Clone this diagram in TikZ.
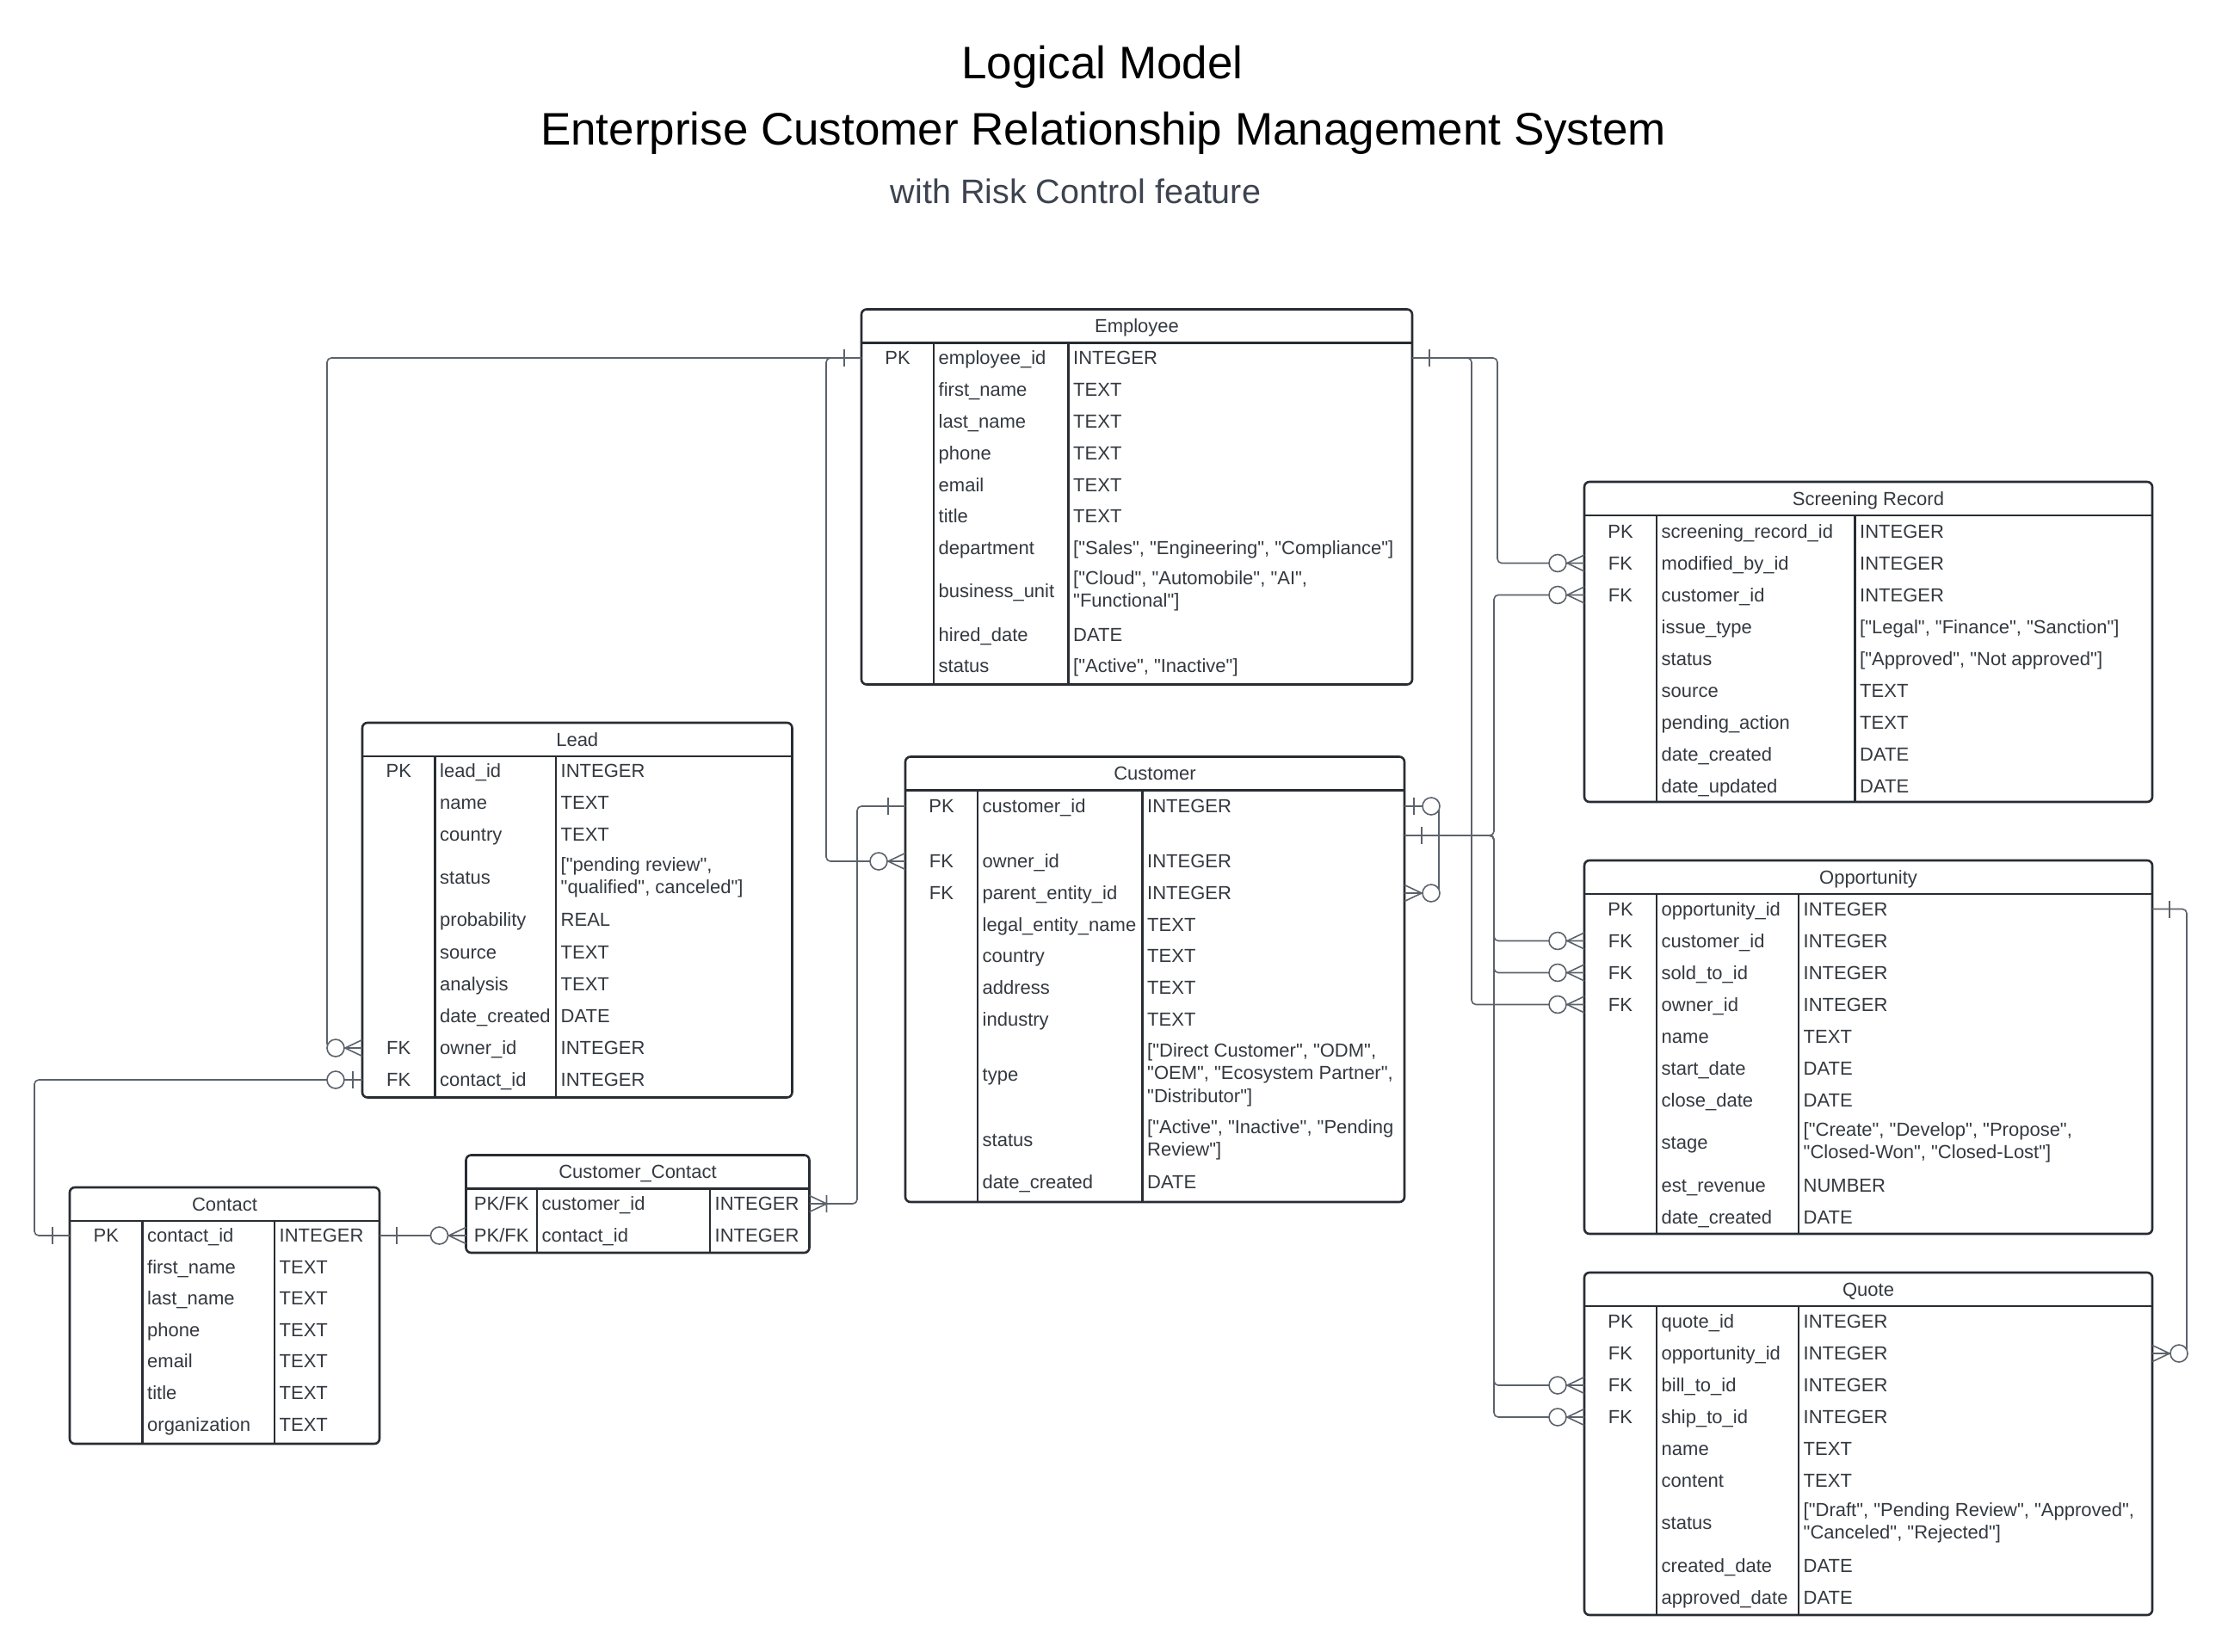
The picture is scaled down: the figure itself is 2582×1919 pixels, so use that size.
\documentclass[tikz,border=0pt]{standalone}
\usepackage{fontspec}
\setmainfont{Liberation Sans}[Ligatures=TeXOff]
\definecolor{ink}{HTML}{282C33}
\definecolor{txt}{HTML}{333940}
\definecolor{rc}{HTML}{5C626B}
\definecolor{subc}{HTML}{3D4450}
\tikzset{
  tbl/.style={draw=ink, line width=2.6pt, rounded corners=6pt, inner sep=0pt, outer sep=0pt},
  sep/.style={draw=ink, line width=2.4pt},
  hdr/.style={text=txt, font=\fontsize{22}{26.5}\selectfont, inner sep=0pt},
  ktxt/.style={hdr, text height=19.9pt, text depth=4.7pt},
  ftxt/.style={ktxt, anchor=west},
  mtxt/.style={hdr, anchor=west, align=left},
  ttl/.style={font=\fontsize{53}{58}\selectfont, inner sep=0pt, anchor=base},
  subttl/.style={font=\fontsize{39.5}{44}\selectfont, text=subc, inner sep=0pt, anchor=base},
  rel/.style={draw=rc, line width=1.6pt, rounded corners=5pt},
  mk/.style={draw=rc, line width=1.6pt, sharp corners},
  erone/.pic={\draw[mk] (20,-10) -- (20,10);},
  erzone/.pic={\draw[mk] (11,-10) -- (11,10); \draw[mk, fill=white] (31,0) circle[radius=10pt];},
  erzmany/.pic={\draw[mk] (0,-9.5) -- (20,0) -- (0,9.5); \draw[mk, fill=white] (31,0) circle[radius=10pt];},
  eromany/.pic={\draw[mk] (0,-9.5) -- (20,0) -- (0,9.5) (20,-10) -- (20,10);},
}
% name, title, left, top, right, bottom, column 1, column 2
\newcommand{\ertable}[8]{%
  \node[tbl, anchor=north west, minimum width={(#5)-(#3)}, minimum height={(#6)-(#4)}] (#1) at (#3,#4) {};
  \node[ktxt] (#1h) at ({((#3)+(#5))/2},{(#4)+19.5}) {#2};
  \draw[sep] (#3,{(#4)+39}) -- (#5,{(#4)+39});
  \draw[sep] (#7,{(#4)+39}) -- (#7,#6);
  \draw[sep] (#8,{(#4)+39}) -- (#8,#6);
  \coordinate (#1k) at ({((#3)+(#7))/2},0);
  \coordinate (#1f) at ({(#7)+5.5},0);
  \coordinate (#1t) at ({(#8)+5.5},0);}
% table, row, y, key, field, type
\newcommand{\erow}[6]{%
  \node[ktxt] (#1#2k) at (#1k |- 0,#3) {#4};
  \node[ftxt] (#1#2) at (#1f |- 0,#3) {#5};
  \node[ftxt] (#1#2t) at (#1t |- 0,#3) {#6};}
\newcommand{\erowm}[6]{%
  \node[ktxt] (#1#2k) at (#1k |- 0,#3) {#4};
  \node[ftxt] (#1#2) at (#1f |- 0,#3) {#5};
  \node[mtxt] (#1#2t) at (#1t |- 0,#3) {#6};}
\begin{document}
\begin{tikzpicture}[x=1pt, y=-1pt]
  \fill[white] (0,0) rectangle (2582,1919);
  \useasboundingbox (0,0) rectangle (2582,1919);
  \node[ttl] (title) at (1281,92) {Logical Model};
  \node[ttl] (system) at (1282,168) {Enterprise Customer Relationship Management System};
  \node[subttl] (feature) at (1250,236) {with Risk Control feature};

  \ertable{emp}{Employee}{1001}{359.5}{1641}{795.5}{1085}{1241.5}
  \erow{emp}{1}{416}{PK}{employee\_id}{INTEGER}
  \erow{emp}{2}{453}{}{first\_name}{TEXT}
  \erow{emp}{3}{490}{}{last\_name}{TEXT}
  \erow{emp}{4}{527}{}{phone}{TEXT}
  \erow{emp}{5}{564}{}{email}{TEXT}
  \erow{emp}{6}{600}{}{title}{TEXT}
  \erow{emp}{7}{637}{}{department}{["Sales", "Engineering", "Compliance"]}
  \erowm{emp}{8}{687}{}{business\_unit}{["Cloud", "Automobile", "AI",\\"Functional"]}
  \erow{emp}{9}{738}{}{hired\_date}{DATE}
  \erow{emp}{10}{774}{}{status}{["Active", "Inactive"]}

  \ertable{lead}{Lead}{421}{840}{920.5}{1275.5}{505.5}{646}
  \erow{lead}{1}{896}{PK}{lead\_id}{INTEGER}
  \erow{lead}{2}{933}{}{name}{TEXT}
  \erow{lead}{3}{970}{}{country}{TEXT}
  \erowm{lead}{4}{1020}{}{status}{["pending review",\\"qualified", canceled"]}
  \erow{lead}{5}{1069}{}{probability}{REAL}
  \erow{lead}{6}{1107}{}{source}{TEXT}
  \erow{lead}{7}{1144}{}{analysis}{TEXT}
  \erow{lead}{8}{1181}{}{date\_created}{DATE}
  \erow{lead}{9}{1218}{FK}{owner\_id}{INTEGER}
  \erow{lead}{10}{1255}{FK}{contact\_id}{INTEGER}

  \ertable{cust}{Customer}{1052}{879.5}{1632}{1397}{1136}{1327.5}
  \erow{cust}{1}{937}{PK}{customer\_id}{INTEGER}
  \erow{cust}{2}{1001}{FK}{owner\_id}{INTEGER}
  \erow{cust}{3}{1038}{FK}{parent\_entity\_id}{INTEGER}
  \erow{cust}{4}{1075}{}{legal\_entity\_name}{TEXT}
  \erow{cust}{5}{1111}{}{country}{TEXT}
  \erow{cust}{6}{1148}{}{address}{TEXT}
  \erow{cust}{7}{1185}{}{industry}{TEXT}
  \erowm{cust}{8}{1249}{}{type}{["Direct Customer", "ODM",\\"OEM", "Ecosystem Partner",\\"Distributor"]}
  \erowm{cust}{9}{1325}{}{status}{["Active", "Inactive", "Pending\\Review"]}
  \erow{cust}{10}{1374}{}{date\_created}{DATE}

  \ertable{scr}{Screening Record}{1841}{560}{2501}{932}{1925}{2155.5}
  \erow{scr}{1}{617.5}{PK}{screening\_record\_id}{INTEGER}
  \erow{scr}{2}{654.5}{FK}{modified\_by\_id}{INTEGER}
  \erow{scr}{3}{691.5}{FK}{customer\_id}{INTEGER}
  \erow{scr}{4}{728.5}{}{issue\_type}{["Legal", "Finance", "Sanction"]}
  \erow{scr}{5}{765.5}{}{status}{["Approved", "Not approved"]}
  \erow{scr}{6}{802.5}{}{source}{TEXT}
  \erow{scr}{7}{839.5}{}{pending\_action}{TEXT}
  \erow{scr}{8}{876.5}{}{date\_created}{DATE}
  \erow{scr}{9}{913.5}{}{date\_updated}{DATE}

  \ertable{opp}{Opportunity}{1841}{1000}{2501}{1434}{1925}{2090}
  \erow{opp}{1}{1056.5}{PK}{opportunity\_id}{INTEGER}
  \erow{opp}{2}{1093.5}{FK}{customer\_id}{INTEGER}
  \erow{opp}{3}{1130.5}{FK}{sold\_to\_id}{INTEGER}
  \erow{opp}{4}{1167.5}{FK}{owner\_id}{INTEGER}
  \erow{opp}{5}{1204.5}{}{name}{TEXT}
  \erow{opp}{6}{1241.5}{}{start\_date}{DATE}
  \erow{opp}{7}{1278.5}{}{close\_date}{DATE}
  \erowm{opp}{8}{1328}{}{stage}{["Create", "Develop", "Propose",\\"Closed-Won", "Closed-Lost"]}
  \erow{opp}{9}{1378}{}{est\_revenue}{NUMBER}
  \erow{opp}{10}{1415}{}{date\_created}{DATE}

  \ertable{quo}{Quote}{1841}{1479}{2501}{1877}{1925}{2090}
  \erow{quo}{1}{1536}{PK}{quote\_id}{INTEGER}
  \erow{quo}{2}{1573}{FK}{opportunity\_id}{INTEGER}
  \erow{quo}{3}{1610}{FK}{bill\_to\_id}{INTEGER}
  \erow{quo}{4}{1647}{FK}{ship\_to\_id}{INTEGER}
  \erow{quo}{5}{1684}{}{name}{TEXT}
  \erow{quo}{6}{1721}{}{content}{TEXT}
  \erowm{quo}{7}{1770}{}{status}{["Draft", "Pending Review", "Approved",\\"Canceled", "Rejected"]}
  \erow{quo}{8}{1820}{}{created\_date}{DATE}
  \erow{quo}{9}{1857}{}{approved\_date}{DATE}

  \ertable{con}{Contact}{81}{1380}{441}{1678}{165.5}{319}
  \erow{con}{1}{1436}{PK}{contact\_id}{INTEGER}
  \erow{con}{2}{1472.5}{}{first\_name}{TEXT}
  \erow{con}{3}{1509}{}{last\_name}{TEXT}
  \erow{con}{4}{1545.5}{}{phone}{TEXT}
  \erow{con}{5}{1582}{}{email}{TEXT}
  \erow{con}{6}{1619}{}{title}{TEXT}
  \erow{con}{7}{1656}{}{organization}{TEXT}

  \ertable{cc}{Customer\_Contact}{541.5}{1342.5}{940.5}{1456}{624}{825}
  \erow{cc}{1}{1399}{PK/FK}{customer\_id}{INTEGER}
  \erow{cc}{2}{1436}{PK/FK}{contact\_id}{INTEGER}

  % relationship buses
  \coordinate (busel) at (380,0);
  \coordinate (busec) at (960,0);
  \coordinate (buseo) at (1710,0);
  \coordinate (buses) at (1740,0);
  \coordinate (busc) at (1736,0);
  \coordinate (buscs) at (1672,0);
  \coordinate (buscc) at (996,0);
  \coordinate (buscl) at (40,0);
  \coordinate (busoq) at (2541,0);
  \coordinate (custb) at (cust.east |- 0,971);

  \draw[rel] (emp.west |- emp1) -| (busel |- lead9) -- (lead.west |- lead9);
  \draw[rel] (emp.west |- emp1) -| (busec |- cust2) -- (cust.west |- cust2);
  \draw[rel] (emp.east |- emp1) -| (buses |- scr2) -- (scr.west |- scr2);
  \draw[rel] (emp.east |- emp1) -| (buseo |- opp4) -- (opp.west |- opp4);
  \draw[rel] (custb) -| (busc |- scr3) -- (scr.west |- scr3);
  \draw[rel] (custb) -| (busc |- opp2) -- (opp.west |- opp2);
  \draw[rel] (custb) -| (busc |- opp3) -- (opp.west |- opp3);
  \draw[rel] (custb) -| (busc |- quo3) -- (quo.west |- quo3);
  \draw[rel] (custb) -| (busc |- quo4) -- (quo.west |- quo4);
  \draw[rel] (cust.east |- cust1) -| (buscs |- cust3) -- (cust.east |- cust3);
  \draw[rel] (cust.west |- cust1) -| (buscc |- cc1) -- (cc.east |- cc1);
  \draw[rel] (con.east |- con1) -- (cc.west |- cc2);
  \draw[rel] (con.west |- con1) -| (buscl |- lead10) -- (lead.west |- lead10);
  \draw[rel] (opp.east |- opp1) -| (busoq |- quo2) -- (quo.east |- quo2);

  % ends
  \path (emp.west |- emp1) pic[xscale=-1] {erone};
  \path (emp.east |- emp1) pic {erone};
  \path (lead.west |- lead9) pic[xscale=-1] {erzmany};
  \path (cust.west |- cust2) pic[xscale=-1] {erzmany};
  \path (scr.west |- scr2) pic[xscale=-1] {erzmany};
  \path (opp.west |- opp4) pic[xscale=-1] {erzmany};
  \path (custb) pic {erone};
  \path (scr.west |- scr3) pic[xscale=-1] {erzmany};
  \path (opp.west |- opp2) pic[xscale=-1] {erzmany};
  \path (opp.west |- opp3) pic[xscale=-1] {erzmany};
  \path (quo.west |- quo3) pic[xscale=-1] {erzmany};
  \path (quo.west |- quo4) pic[xscale=-1] {erzmany};
  \path (cust.east |- cust1) pic {erzone};
  \path (cust.east |- cust3) pic {erzmany};
  \path (cust.west |- cust1) pic[xscale=-1] {erone};
  \path (cc.east |- cc1) pic {eromany};
  \path (con.east |- con1) pic {erone};
  \path (cc.west |- cc2) pic[xscale=-1] {erzmany};
  \path (con.west |- con1) pic[xscale=-1] {erone};
  \path (lead.west |- lead10) pic[xscale=-1] {erzone};
  \path (opp.east |- opp1) pic {erone};
  \path (quo.east |- quo2) pic {erzmany};
\end{tikzpicture}
\end{document}
